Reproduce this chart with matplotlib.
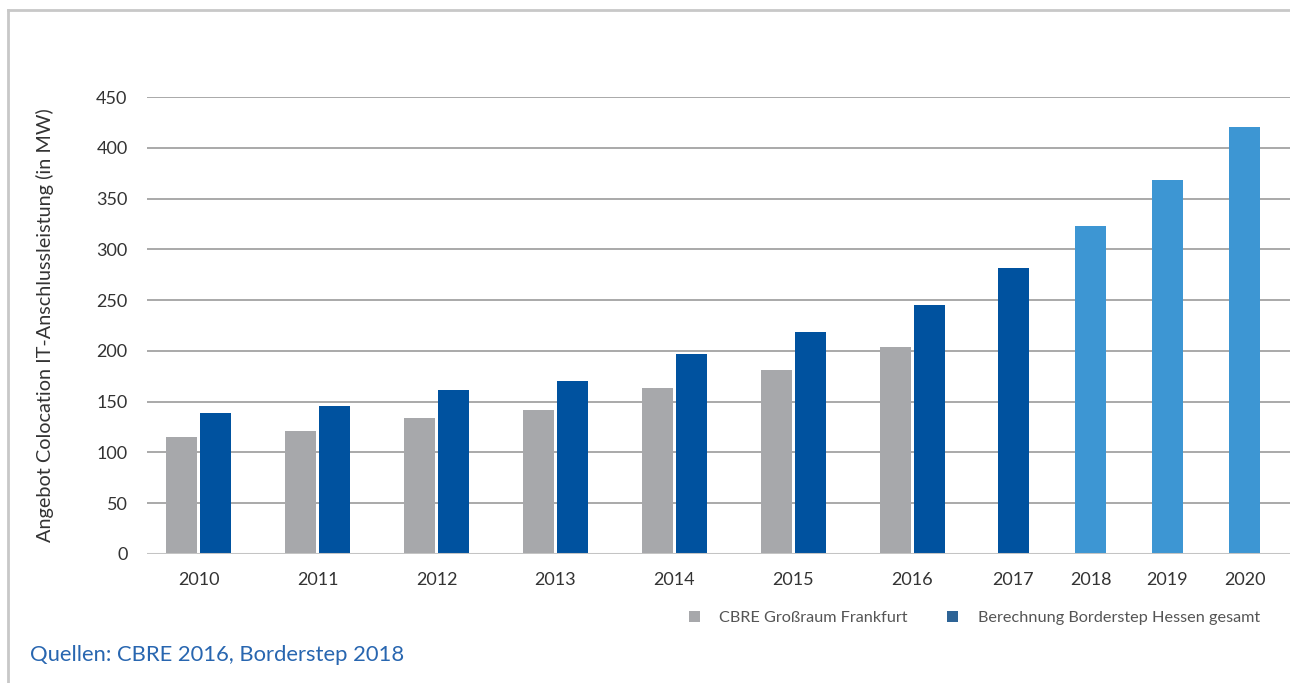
import matplotlib
matplotlib.use("Agg")
import matplotlib.pyplot as plt
from matplotlib.patches import Patch
from matplotlib.lines import Line2D

plt.rcParams["font.family"] = ["Lato", "DejaVu Sans"]

# --- data -------------------------------------------------------------
years = ["2010", "2011", "2012", "2013", "2014", "2015", "2016",
         "2017", "2018", "2019", "2020"]
cbre_frankfurt = [115, 121, 134, 142, 163, 181, 204, None, None, None, None]
borderstep_hessen = [139, 146, 161, 170, 197, 219, 245, 282, 323, 368, 420]
forecast_years = ["2018", "2019", "2020"]

legend_labels = ["CBRE Großraum Frankfurt", "Berechnung Borderstep Hessen gesamt"]
y_ticks = [0, 50, 100, 150, 200, 250, 300, 350, 400, 450]
y_label = "Angebot Colocation IT-Anschlussleistung (in MW)"
source_note = "Quellen: CBRE 2016, Borderstep 2018"

# --- styling ----------------------------------------------------------
GRAY = "#A7A8AB"
BLUE = "#00529F"
LIGHT_BLUE = "#3D96D3"
LEGEND_BLUE = "#2E6496"
GRID = "#A3A3A3"
TEXT = "#333333"

W, H = 1290, 683
fig = plt.figure(figsize=(W / 100, H / 100), dpi=100)

# frame around the chart (top and left edges)
fig.add_artist(Line2D([8 / W, 8 / W], [0, 1 - 10 / H], color="#C8C8C8",
                      lw=2, transform=fig.transFigure))
fig.add_artist(Line2D([8 / W, 1], [1 - 10 / H, 1 - 10 / H], color="#C8C8C8",
                      lw=2, transform=fig.transFigure))

ax_left, ax_right, ax_top, ax_bottom = 147, 1290, 97, 554
ax = fig.add_axes([ax_left / W, 1 - ax_bottom / H,
                   (ax_right - ax_left) / W, (ax_bottom - ax_top) / H])

# category slots: wider when a year carries two bars
bar_w = 31
pair_gap = 3
slot_pair = 119
slot_single = 77
centers = []
pos = 0.0
for c in cbre_frankfurt:
    slot = slot_pair if c is not None else slot_single
    centers.append(pos + slot / 2)
    pos += slot
# the single-bar slots sit slightly right of the cumulative layout
for i, c in enumerate(cbre_frankfurt):
    if c is None:
        centers[i] += 3

for i, (yr, g, b) in enumerate(zip(years, cbre_frankfurt, borderstep_hessen)):
    col = LIGHT_BLUE if yr in forecast_years else BLUE
    if g is not None:
        off = (bar_w + pair_gap) / 2
        ax.bar(centers[i] - off, g, width=bar_w, color=GRAY, zorder=3)
        ax.bar(centers[i] + off, b, width=bar_w, color=col, zorder=3)
    else:
        ax.bar(centers[i], b, width=bar_w, color=col, zorder=3)

ax.set_xlim(ax_left - 139, ax_left - 139 + (ax_right - ax_left))
ax.set_ylim(0, 450)

for t in y_ticks:
    if t == 0:
        ax.axhline(t, color="#C4C4C4", lw=2.2, zorder=4)
    else:
        ax.axhline(t, color=GRID, lw=1.3, zorder=1)

ax.set_yticks(y_ticks)
ax.set_xticks(centers)
ax.set_xticklabels(years)
ax.tick_params(axis="both", length=0, labelsize=13, labelcolor=TEXT)
ax.tick_params(axis="y", pad=14)
ax.tick_params(axis="x", pad=13)
for s in ax.spines.values():
    s.set_visible(False)

fig.text(45 / W, 1 - 325 / H, y_label, rotation=90, ha="center", va="center",
         fontsize=14.3, color=TEXT)

handles = [Patch(facecolor=GRAY, edgecolor="none"),
           Patch(facecolor=LEGEND_BLUE, edgecolor="none")]
fig.legend(handles, legend_labels, loc="center left",
           bbox_to_anchor=(674 / W, 1 - 618 / H), ncol=2, frameon=False,
           fontsize=11.7, labelcolor="#555555", handlelength=0.7,
           handleheight=0.7, handletextpad=1.2, columnspacing=2.4)

fig.text(30 / W, 1 - 655 / H, source_note, ha="left", va="center",
         fontsize=15.8, color="#2866B0")

fig.savefig("out.png", dpi=100)
